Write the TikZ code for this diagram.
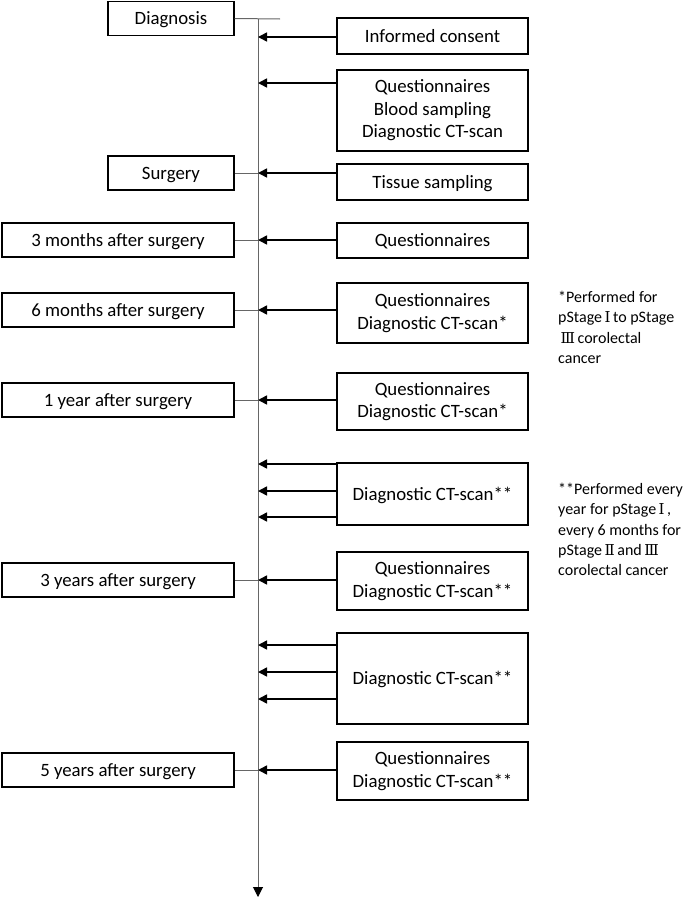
\documentclass[tikz,border=0pt]{standalone}
\usepackage{fontspec}
\setmainfont{Carlito}
\newfontfamily\romfont{DejaVu Serif}
\usetikzlibrary{arrows.meta}
\newcommand{\RI}{{\romfont\fontsize{15}{15}\selectfont\,Ⅰ\,}}
\newcommand{\RII}{{\romfont\fontsize{15}{15}\selectfont\,Ⅱ\,}}
\newcommand{\RIII}{{\romfont\fontsize{15}{15}\selectfont\,Ⅲ\,}}
\tikzset{
  box/.style={draw=black, line width=1.1pt, align=center, inner sep=0pt,
    font=\fontsize{18.8}{22.5}\selectfont},
  one/.style={text height=15pt, text depth=3pt},
  lbox/.style={box, one, minimum height=34pt},
  rbox/.style={box, minimum width=191pt},
  arr/.style={line width=1.6pt, -{Triangle[length=9pt,width=9pt]}},
  thinline/.style={draw=black!60, line width=1pt},
  note/.style={align=left, anchor=north west, inner sep=0pt,
    font=\fontsize{16}{20.3}\selectfont}
}
\begin{document}
\begin{tikzpicture}[x=1pt,y=-1pt]
\useasboundingbox (0,0) rectangle (685,902);
% spine
\coordinate (top) at (258,19);
\coordinate (bot) at (258,897);
\coordinate (dend) at (280,19);
\draw[thinline, -{Triangle[length=10pt,width=10pt,color=black]}] (top) -- (bot);
% left boxes
\node[lbox, minimum width=126pt] (diag) at (171,18.5) {Diagnosis};
\node[lbox, minimum width=126pt] (surg) at (171,173) {Surgery};
\node[lbox, minimum width=232pt] (m3) at (118,240) {3 months after surgery};
\node[lbox, minimum width=232pt] (m6) at (118,310) {6 months after surgery};
\node[lbox, minimum width=232pt] (y1) at (118,400) {1 year after surgery};
\node[lbox, minimum width=232pt] (y3) at (118,580) {3 years after surgery};
\node[lbox, minimum width=232pt] (y5) at (118,770) {5 years after surgery};
\draw[thinline] (diag.east) -- (dend);
\foreach \n in {surg,m3,m6,y1,y3,y5}{
  \draw[thinline] (\n.east) -- (\n.east -| top);
}
% right boxes
\node[rbox, one, minimum height=36pt] (ic) at (432.5,36) {Informed consent};
\node[rbox, minimum height=81pt] (q1) at (432.5,110.5) {Questionnaires\\Blood sampling\\Diagnostic CT-scan};
\node[rbox, one, minimum height=36pt] (ts) at (432.5,182) {Tissue sampling};
\node[rbox, one, minimum height=35pt] (q2) at (432.5,240.5) {Questionnaires};
\node[rbox, minimum height=60pt] (q3) at (432.5,313) {Questionnaires\\Diagnostic CT-scan*};
\node[rbox, minimum height=57pt] (q4) at (432.5,401.5) {Questionnaires\\Diagnostic CT-scan*};
\node[rbox, one, minimum height=62pt] (c1) at (432.5,494) {Diagnostic CT-scan**};
\node[rbox, minimum height=58pt] (q5) at (432.5,581) {Questionnaires\\Diagnostic CT-scan**};
\node[rbox, one, minimum height=91pt] (c2) at (432.5,678.5) {Diagnostic CT-scan**};
\node[rbox, minimum height=58pt] (q6) at (432.5,771) {Questionnaires\\Diagnostic CT-scan**};
% arrow targets on spine
\foreach \nm/\yy in {a/37,b/83,c/173,d/240,e/310,f/400,g1/464,g2/491,g3/517,h/580,i1/645,i2/672,i3/699,j/770}{
  \coordinate (s\nm) at (258,\yy);
}
\draw[arr] (ic.west |- sa) -- (sa);
\draw[arr] (q1.west |- sb) -- (sb);
\draw[arr] (ts.west |- sc) -- (sc);
\draw[arr] (q2.west |- sd) -- (sd);
\draw[arr] (q3.west |- se) -- (se);
\draw[arr] (q4.west |- sf) -- (sf);
\draw[arr] (c1.west |- sg1) -- (sg1);
\draw[arr] (c1.west |- sg2) -- (sg2);
\draw[arr] (c1.west |- sg3) -- (sg3);
\draw[arr] (q5.west |- sh) -- (sh);
\draw[arr] (c2.west |- si1) -- (si1);
\draw[arr] (c2.west |- si2) -- (si2);
\draw[arr] (c2.west |- si3) -- (si3);
\draw[arr] (q6.west |- sj) -- (sj);
% notes
\node[note] (n1) at (558,291) {*Performed for\\pStage\RI{}to pStage\\\RIII{}corolectal\\cancer};
\node[note] (n2) at (558,483) {**Performed every\\year for pStage\RI{},\\every 6 months for\\pStage\RII{}and\RIII\\corolectal cancer};
\end{tikzpicture}
\end{document}
